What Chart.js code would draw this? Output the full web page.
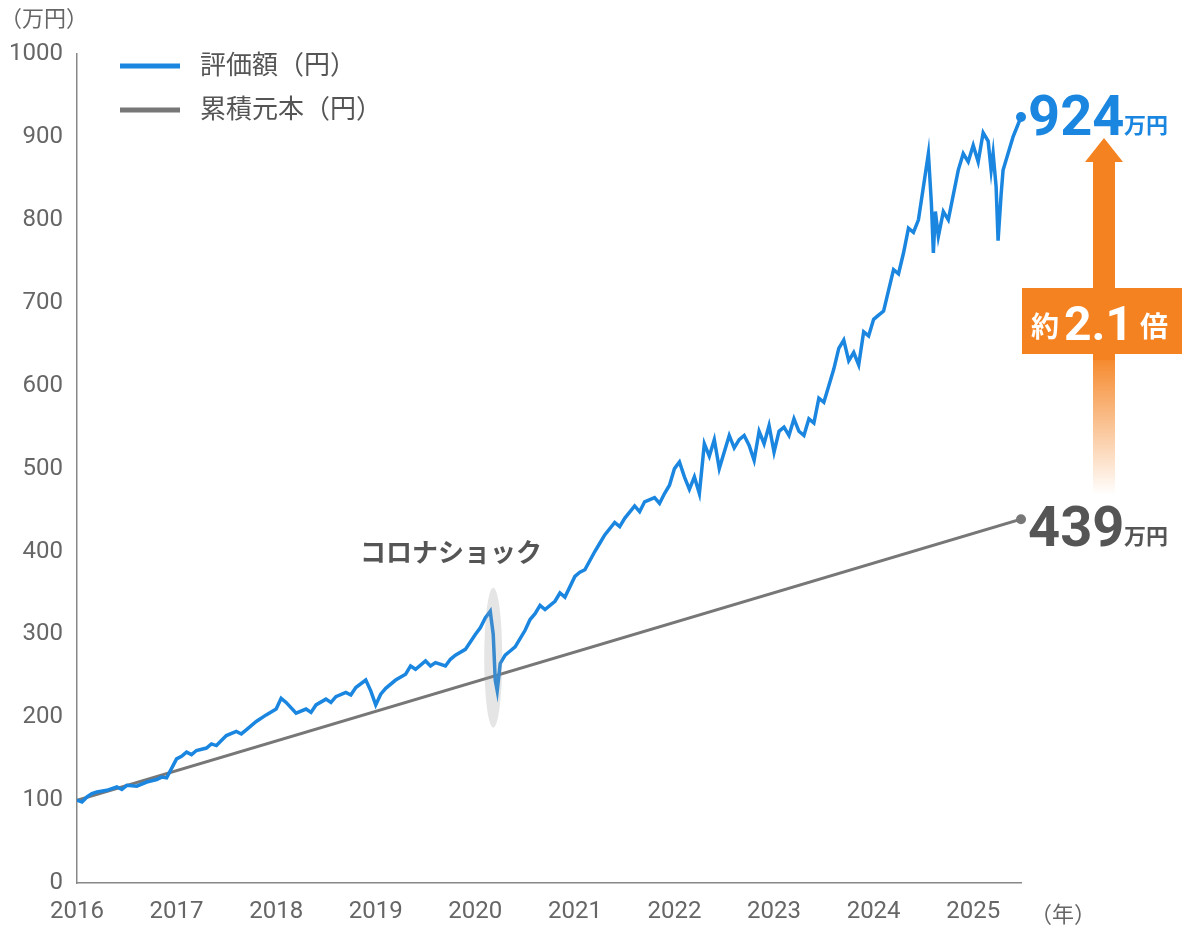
<!DOCTYPE html>
<html><head><meta charset="utf-8">
<script src="https://cdn.jsdelivr.net/npm/chart.js@4/dist/chart.umd.min.js"></script>
<style>body{margin:0;background:#fff}#wrap{width:1184px;height:932px}</style>
</head><body><div id="wrap"><canvas id="c" width="1184" height="932"></canvas></div>
<script>
// 評価額 (decimal year, 万円)
const valueYears = [2016.0,2016.05,2016.1,2016.15,2016.2,2016.3,2016.4,2016.45,2016.5,2016.6,2016.7,2016.8,2016.85,2016.9,
  2017.0,2017.05,2017.1,2017.15,2017.2,2017.3,2017.35,2017.4,2017.5,2017.6,2017.65,2017.7,2017.8,2017.9,2018.0,2018.05,2018.1,2018.2,2018.3,2018.35,2018.4,2018.5,2018.55,2018.6,2018.7,2018.75,2018.8,2018.9,2018.95,2019.0,2019.05,2019.1,2019.2,2019.3,2019.35,2019.4,2019.5,2019.55,2019.6,2019.7,2019.75,2019.8,2019.9,2020.0,2020.05,2020.1,2020.15,2020.18,2020.2,2020.22,2020.25,2020.3,2020.35,2020.4,2020.5,2020.55,2020.6,2020.65,2020.7,2020.8,2020.85,2020.9,
  2021.0,2021.05,2021.1,2021.2,2021.25,2021.3,2021.4,2021.45,2021.5,2021.6,2021.65,2021.7,2021.8,2021.85,2021.9,2021.95,2022.0,2022.05,2022.1,2022.15,2022.2,2022.25,2022.3,2022.35,2022.4,2022.45,2022.5,2022.55,2022.6,2022.65,2022.7,2022.75,2022.8,2022.85,2022.9,2022.95,2023.0,2023.05,2023.1,2023.15,2023.2,2023.25,2023.3,2023.35,2023.4,2023.45,2023.5,2023.55,2023.6,2023.65,2023.7,2023.75,2023.8,2023.85,2023.9,2023.95,
  2024.0,2024.05,2024.1,2024.15,2024.2,2024.25,2024.3,2024.35,2024.4,2024.45,2024.5,2024.55,2024.58,2024.6,2024.62,2024.65,2024.7,2024.75,2024.8,2024.85,2024.9,2024.95,2025.0,2025.05,2025.1,2025.15,2025.18,2025.2,2025.23,2025.25,2025.28,2025.3,2025.35,2025.4,2025.45,2025.48];
const valueAmounts = [100,98,104,108,110,112,116,113,118,117,122,125,128,127,
  150,153,158,155,160,163,168,166,178,183,180,185,195,203,210,223,218,205,210,206,215,222,218,225,230,227,236,245,232,215,228,235,245,252,262,258,268,262,266,262,270,275,282,300,308,320,328,300,245,232,265,275,280,285,305,318,325,335,330,340,350,345,
  370,375,378,400,410,420,435,430,440,455,448,460,465,458,470,480,500,508,490,475,490,470,530,515,535,500,520,540,525,535,540,528,510,545,530,552,520,545,550,540,560,545,540,560,555,585,580,600,620,645,655,630,640,625,665,660,
  680,685,690,715,740,735,760,790,785,800,840,880,820,760,810,780,810,800,830,860,880,870,890,870,905,895,860,880,840,775,830,860,880,900,915,924];
// 累積元本
const principalYears = [2016.0, 2025.48];
const principalAmounts = [100, 439];
const yearTicks = [2016,2017,2018,2019,2020,2021,2022,2023,2024,2025];

const blue = "#1a86e0", gray = "#777777", orange = "#f58220";
const FONT = "'Noto Sans CJK JP', Roboto, sans-serif";

const overlay = {
  id: "overlay",
  afterDraw(chart) {
    const ctx = chart.ctx, x = chart.scales.x, y = chart.scales.y;
    ctx.save();
    // covid ellipse
    ctx.fillStyle = "rgba(150,150,150,0.25)";
    ctx.beginPath();
    ctx.ellipse(x.getPixelForValue(2020.18), y.getPixelForValue(272), 9, 70, 0, 0, Math.PI * 2);
    ctx.fill();
    ctx.fillStyle = "#555"; ctx.font = "bold 26px " + FONT; ctx.textAlign = "center"; ctx.textBaseline = "alphabetic";
    ctx.fillText("コロナショック", 451, 562);
    // end dots
    const ex = x.getPixelForValue(2025.48);
    ctx.fillStyle = blue; ctx.beginPath(); ctx.arc(ex, y.getPixelForValue(924), 5, 0, 7); ctx.fill();
    ctx.fillStyle = gray; ctx.beginPath(); ctx.arc(ex, y.getPixelForValue(439), 5, 0, 7); ctx.fill();
    // end labels
    ctx.textAlign = "left";
    ctx.fillStyle = blue; ctx.font = "bold 56px Roboto, sans-serif";
    ctx.fillText("924", 1028, 135);
    ctx.font = "bold 22px " + FONT; ctx.fillText("万円", 1124, 133);
    ctx.fillStyle = "#555"; ctx.font = "bold 56px Roboto, sans-serif";
    ctx.fillText("439", 1028, 546);
    ctx.font = "bold 22px " + FONT; ctx.fillText("万円", 1124, 544);
    // arrow
    const ax = 1104;
    const g = ctx.createLinearGradient(0, 495, 0, 350);
    g.addColorStop(0, "rgba(245,130,32,0)"); g.addColorStop(1, orange);
    ctx.fillStyle = g; ctx.fillRect(ax - 11, 350, 22, 145);
    ctx.fillStyle = orange; ctx.fillRect(ax - 11, 160, 22, 200);
    ctx.beginPath(); ctx.moveTo(ax - 19, 162); ctx.lineTo(ax + 19, 162); ctx.lineTo(ax, 138); ctx.closePath(); ctx.fill();
    ctx.fillRect(1022, 288, 160, 66);
    ctx.fillStyle = "#fff"; ctx.textAlign = "left";
    ctx.font = "bold 28px " + FONT; ctx.fillText("約", 1031, 337);
    ctx.font = "bold 48px Roboto, sans-serif"; ctx.fillText("2.1", 1064, 340);
    ctx.font = "bold 28px " + FONT; ctx.fillText("倍", 1140, 337);
    // legend
    ctx.lineWidth = 5;
    ctx.strokeStyle = blue; ctx.beginPath(); ctx.moveTo(120, 66); ctx.lineTo(180, 66); ctx.stroke();
    ctx.strokeStyle = gray; ctx.beginPath(); ctx.moveTo(120, 110); ctx.lineTo(180, 110); ctx.stroke();
    ctx.fillStyle = "#555"; ctx.font = "26px " + FONT; ctx.textBaseline = "middle";
    ctx.fillText("評価額（円）", 200, 64); ctx.fillText("累積元本（円）", 200, 108);
    // axis units
    ctx.font = "22px " + FONT; ctx.fillStyle = "#666";
    ctx.fillText("（万円）", 0, 18);
    ctx.fillText("（年）", 1030, 914);
    ctx.restore();
  }
};

new Chart(document.getElementById("c"), {
  type: "line",
  data: {
    datasets: [
      { label: "累積元本（円）", data: principalYears.map((t, i) => ({ x: t, y: principalAmounts[i] })), borderColor: gray, borderWidth: 3, pointRadius: 0, order: 2 },
      { label: "評価額（円）", data: valueYears.map((t, i) => ({ x: t, y: valueAmounts[i] })), borderColor: blue, borderWidth: 3.5, pointRadius: 0, tension: 0, order: 1 }
    ]
  },
  options: {
    responsive: false, animation: false,
    layout: { padding: { left: 0, right: 163, top: 54, bottom: 0 } },
    plugins: { legend: { display: false }, tooltip: { enabled: false } },
    scales: {
      x: {
        type: "linear", min: 2016, max: 2025.48,
        afterBuildTicks: s => { s.ticks = yearTicks.map(v => ({ value: v })); },
        grid: { display: false, drawTicks: true, tickLength: 8, color: "#888" },
        border: { color: "#888", width: 1.5 },
        ticks: { color: "#666", font: { size: 24, family: "Roboto" }, padding: 6, callback: v => String(v) }
      },
      y: {
        min: 0, max: 1000,
        grid: { display: false, tickLength: 8 },
        border: { color: "#888", width: 1.5 },
        ticks: { stepSize: 100, color: "#666", font: { size: 24, family: "Roboto" }, padding: 6, callback: v => String(v) },
        afterFit: s => { s.width = 77; }
      }
    }
  },
  plugins: [overlay]
});
</script></body></html>
